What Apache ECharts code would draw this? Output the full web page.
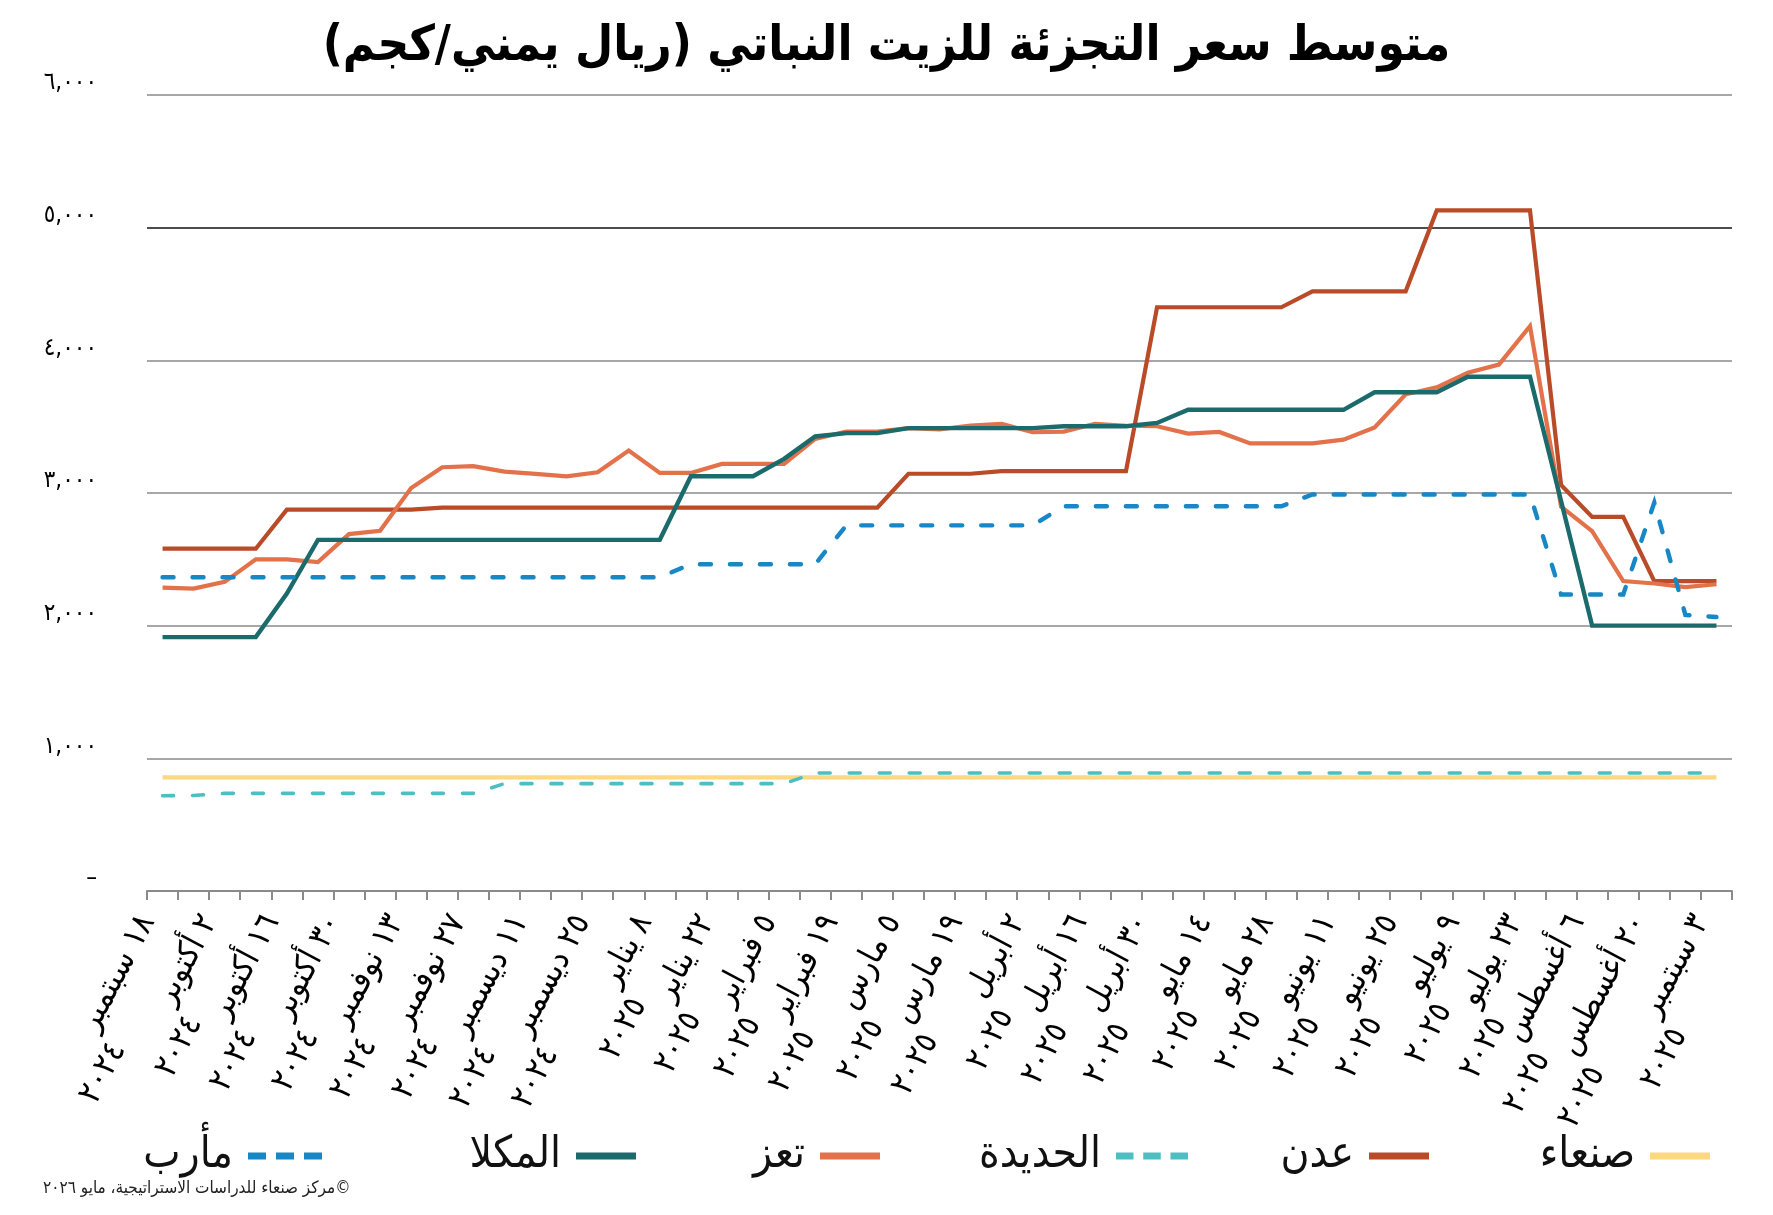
<!DOCTYPE html>
<html lang="ar">
<head>
    <meta charset="UTF-8">
    <title>متوسط سعر التجزئة للزيت النباتي</title>
    <script src="https://cdn.jsdelivr.net/npm/echarts@6/dist/echarts.min.js"></script>
    <style>
        html, body { margin: 0; padding: 0; background: #fff; }
        #container { width: 1773px; height: 1215px; }
    </style>
</head>
<body>
<div id="container"></div>
<script>
    // weekly dates, labels shown every other week
    var categories = [
        '١٨ سبتمبر ٢٠٢٤', '٢٥ سبتمبر ٢٠٢٤', '٢ أكتوبر ٢٠٢٤', '٩ أكتوبر ٢٠٢٤', '١٦ أكتوبر ٢٠٢٤',
        '٢٣ أكتوبر ٢٠٢٤', '٣٠ أكتوبر ٢٠٢٤', '٦ نوفمبر ٢٠٢٤', '١٣ نوفمبر ٢٠٢٤', '٢٠ نوفمبر ٢٠٢٤',
        '٢٧ نوفمبر ٢٠٢٤', '٤ ديسمبر ٢٠٢٤', '١١ ديسمبر ٢٠٢٤', '١٨ ديسمبر ٢٠٢٤', '٢٥ ديسمبر ٢٠٢٤',
        '١ يناير ٢٠٢٥', '٨ يناير ٢٠٢٥', '١٥ يناير ٢٠٢٥', '٢٢ يناير ٢٠٢٥', '٢٩ يناير ٢٠٢٥',
        '٥ فبراير ٢٠٢٥', '١٢ فبراير ٢٠٢٥', '١٩ فبراير ٢٠٢٥', '٢٦ فبراير ٢٠٢٥', '٥ مارس ٢٠٢٥',
        '١٢ مارس ٢٠٢٥', '١٩ مارس ٢٠٢٥', '٢٦ مارس ٢٠٢٥', '٢ أبريل ٢٠٢٥', '٩ أبريل ٢٠٢٥',
        '١٦ أبريل ٢٠٢٥', '٢٣ أبريل ٢٠٢٥', '٣٠ أبريل ٢٠٢٥', '٧ مايو ٢٠٢٥', '١٤ مايو ٢٠٢٥',
        '٢١ مايو ٢٠٢٥', '٢٨ مايو ٢٠٢٥', '٤ يونيو ٢٠٢٥', '١١ يونيو ٢٠٢٥', '١٨ يونيو ٢٠٢٥',
        '٢٥ يونيو ٢٠٢٥', '٢ يوليو ٢٠٢٥', '٩ يوليو ٢٠٢٥', '١٦ يوليو ٢٠٢٥', '٢٣ يوليو ٢٠٢٥',
        '٣٠ يوليو ٢٠٢٥', '٦ أغسطس ٢٠٢٥', '١٣ أغسطس ٢٠٢٥', '٢٠ أغسطس ٢٠٢٥', '٢٧ أغسطس ٢٠٢٥',
        '٣ سبتمبر ٢٠٢٥'
    ];

    var yTickLabels = ['–', '١,٠٠٠', '٢,٠٠٠', '٣,٠٠٠', '٤,٠٠٠', '٥,٠٠٠', '٦,٠٠٠'];

    var sanaa = [
        856, 856, 856, 856, 856, 856, 856, 856, 856, 856,
        856, 856, 856, 856, 856, 856, 856, 856, 856, 856,
        856, 856, 856, 856, 856, 856, 856, 856, 856, 856,
        856, 856, 856, 856, 856, 856, 856, 856, 856, 856,
        856, 856, 856, 856, 856, 856, 856, 856, 856, 856,
        856
    ];
    var aden = [
        2580, 2580, 2580, 2580, 2875, 2875, 2875, 2875, 2875, 2890,
        2890, 2890, 2890, 2890, 2890, 2890, 2890, 2890, 2890, 2890,
        2890, 2890, 2890, 2890, 3145, 3145, 3145, 3165, 3165, 3165,
        3165, 3165, 4400, 4400, 4400, 4400, 4400, 4520, 4520, 4520,
        4520, 5130, 5130, 5130, 5130, 3060, 2820, 2820, 2336, 2336,
        2336
    ];
    var hodeidah = [
        718, 720, 736, 736, 736, 736, 736, 736, 736, 736,
        736, 809, 809, 809, 809, 809, 809, 809, 809, 809,
        809, 890, 890, 890, 890, 890, 890, 890, 890, 890,
        890, 890, 890, 890, 890, 890, 890, 890, 890, 890,
        890, 890, 890, 890, 890, 890, 890, 890, 890, 890,
        890
    ];
    var taiz = [
        2287, 2280, 2330, 2500, 2500, 2480, 2690, 2715, 3038, 3194,
        3202, 3161, 3144, 3126, 3156, 3320, 3151, 3151, 3219, 3219,
        3219, 3408, 3463, 3463, 3489, 3479, 3509, 3521, 3458, 3463,
        3522, 3507, 3503, 3448, 3460, 3374, 3374, 3374, 3402, 3494,
        3744, 3796, 3907, 3968, 4258, 2897, 2712, 2336, 2318, 2290,
        2312
    ];
    var mukalla = [
        1914, 1914, 1914, 1914, 2242, 2647, 2647, 2647, 2647, 2647,
        2647, 2647, 2647, 2647, 2647, 2647, 2647, 3126, 3126, 3126,
        3257, 3426, 3451, 3451, 3489, 3489, 3489, 3489, 3489, 3503,
        3503, 3503, 3528, 3627, 3627, 3627, 3627, 3627, 3627, 3759,
        3759, 3759, 3876, 3876, 3876, 2940, 2000, 2000, 2000, 2000,
        2000
    ];
    var marib = [
        2365, 2365, 2365, 2365, 2365, 2365, 2365, 2365, 2365, 2365,
        2365, 2365, 2365, 2365, 2365, 2365, 2365, 2463, 2463, 2463,
        2463, 2463, 2756, 2756, 2756, 2756, 2756, 2756, 2756, 2900,
        2900, 2900, 2900, 2900, 2900, 2900, 2900, 2989, 2989, 2989,
        2989, 2989, 2989, 2989, 2989, 2235, 2235, 2235, 2928, 2081,
        2065
    ];

    var FONT = '"DejaVu Sans Condensed", "DejaVu Sans", sans-serif';
    var SOLID_ICON = 'rect';
    var DASH_ICON = 'path://M0,0h18v7h-18z M28,0h18v7h-18z M56,0h18v7h-18z';

    function lineSeries(name, data, color, width, dashed) {
        return {
            name: name,
            type: 'line',
            data: data,
            symbol: 'none',
            animation: false,
            lineStyle: {
                color: color,
                width: width,
                type: dashed ? [11, 19] : 'solid',
                cap: dashed ? 'round' : 'butt',
                join: 'miter'
            },
            itemStyle: { color: color }
        };
    }

    // one legend block per city so each can sit where the original puts it
    function legendAt(name, right, icon, w) {
        return {
            show: true,
            data: [{ name: name, icon: icon }],
            right: right,
            top: 1134,
            padding: 0,
            orient: 'horizontal',
            align: 'right',
            itemWidth: w,
            itemHeight: 7,
            selectedMode: false,
            textStyle: {
                fontFamily: FONT,
                fontSize: 44,
                color: '#111',
                padding: [0, 10, 0, 0]
            }
        };
    }

    // every other week gets a label; year drops to a second line
    function dateLabel(s, idx) {
        if (idx % 2) return '';
        var k = s.lastIndexOf(' ');
        var dm = s.slice(0, k);
        var yr = s.slice(k + 1);
        return '{a|' + dm + '}\n{y|' + yr + '}{h|' + dm + '}';
    }

    var labelText = { fontFamily: FONT, fontSize: 33, lineHeight: 34, color: '#000' };

    var dom = document.getElementById('container');
    var myChart = echarts.init(dom, null, { renderer: 'canvas' });

    var option = {
        backgroundColor: '#fff',
        animation: false,
        title: {
            text: 'متوسط سعر التجزئة للزيت النباتي (ريال يمني/كجم)\u200F',
            left: 'center',
            top: 18,
            textStyle: {
                fontFamily: FONT,
                fontSize: 49,
                fontWeight: 'bold',
                color: '#000'
            }
        },
        grid: {
            left: 147,
            right: 41,
            top: 95,
            bottom: 324,
            containLabel: false
        },
        legend: [
            legendAt('صنعاء', 63, SOLID_ICON, 60),
            legendAt('عدن', 344, SOLID_ICON, 60),
            legendAt('الحديدة', 585, DASH_ICON, 72),
            legendAt('تعز', 893, SOLID_ICON, 60),
            legendAt('المكلا', 1137, SOLID_ICON, 60),
            legendAt('مأرب', 1451, DASH_ICON, 74)
        ],
        xAxis: {
            type: 'category',
            data: categories,
            boundaryGap: true,
            axisLine: {
                show: true,
                lineStyle: { color: '#8a8a8a', width: 2 }
            },
            axisTick: {
                show: true,
                interval: 0,
                length: 9,
                lineStyle: { color: '#8a8a8a', width: 2 }
            },
            axisLabel: {
                interval: 0,
                hideOverlap: false,
                rotate: 62,
                margin: 34,
                fontFamily: FONT,
                fontSize: 33,
                color: '#000',
                formatter: dateLabel,
                rich: {
                    a: labelText,
                    y: labelText,
                    h: { fontFamily: FONT, fontSize: 33, lineHeight: 34, color: 'rgba(0,0,0,0)' }
                }
            },
            splitLine: { show: false }
        },
        yAxis: {
            type: 'value',
            min: 0,
            max: 6000,
            interval: 1000,
            axisLine: { show: false },
            axisTick: { show: false },
            axisLabel: {
                margin: 50,
                fontFamily: FONT,
                fontSize: 24,
                color: '#000',
                verticalAlign: 'bottom',
                formatter: function (v) {
                    return yTickLabels[Math.round(v / 1000)];
                }
            },
            splitLine: {
                show: true,
                lineStyle: {
                    color: ['#8a8a8a', '#8a8a8a', '#8a8a8a', '#8a8a8a', '#8a8a8a', '#111111', '#8a8a8a'],
                    width: 1.6
                }
            }
        },
        graphic: [{
            type: 'text',
            left: 43,
            top: 1180,
            style: {
                text: '\u200F©مركز صنعاء للدراسات الاستراتيجية، مايو ٢٠٢٦',
                fontFamily: FONT,
                fontSize: 17,
                fill: '#222'
            }
        }],
        series: [
            lineSeries('صنعاء', sanaa, '#fcd880', 4.2, false),
            lineSeries('عدن', aden, '#b94b28', 4.2, false),
            lineSeries('الحديدة', hodeidah, '#4dbfc2', 3.6, true),
            lineSeries('تعز', taiz, '#e3714a', 4.2, false),
            lineSeries('المكلا', mukalla, '#1c6b6c', 4.4, false),
            lineSeries('مأرب', marib, '#1787c6', 4.4, true)
        ]
    };

    myChart.setOption(option, true);
</script>
</body>
</html>
